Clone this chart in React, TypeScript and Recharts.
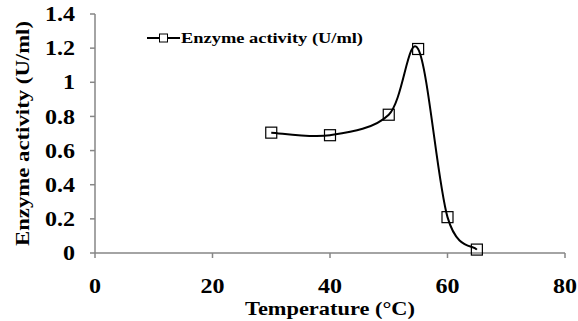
import { LineChart, Line, XAxis, YAxis, Legend } from 'recharts';

// Temperature (°C) and measured enzyme activity (U/ml)
const temperatures = [30, 40, 50, 55, 60, 65];
const activity = [0.705, 0.69, 0.81, 1.195, 0.21, 0.02];
const xTicks = [0, 20, 40, 60, 80];
const yTicks = [0, 0.2, 0.4, 0.6, 0.8, 1, 1.2, 1.4];

const data = temperatures.map((t, i) => ({ temp: t, activity: activity[i] }));

const FONT = '"Liberation Serif", "Times New Roman", serif';
const AXIS_GREY = '#868686';
const WIDE = 1.2; // the labels are set in a wide bold serif

// Excel-style smoothed line: cubic Bezier segments with tangents (P[i+1] - P[i-1]) / 6
const smoothCurve = (context: any) => {
  let xs: number[] = [];
  let ys: number[] = [];
  return {
    areaStart() {},
    areaEnd() {},
    lineStart() {
      xs = [];
      ys = [];
    },
    point(x: number, y: number) {
      xs.push(+x);
      ys.push(+y);
    },
    lineEnd() {
      const n = xs.length;
      if (!n) return;
      context.moveTo(xs[0], ys[0]);
      for (let i = 0; i < n - 1; i++) {
        const a = Math.max(i - 1, 0);
        const d = Math.min(i + 2, n - 1);
        const c1x = xs[i] + (xs[i + 1] - xs[a]) / 6;
        const c1y = ys[i] + (ys[i + 1] - ys[a]) / 6;
        const c2x = xs[i + 1] - (xs[d] - xs[i]) / 6;
        const c2y = ys[i + 1] - (ys[d] - ys[i]) / 6;
        context.bezierCurveTo(c1x, c1y, c2x, c2y, xs[i + 1], ys[i + 1]);
      }
    },
  };
};

const SquareDot = (props: any) => {
  const { cx, cy } = props;
  if (cx == null || cy == null) return null;
  return (
    <rect
      key={`dot-${cx}`}
      x={cx - 5.5}
      y={cy - 5.5}
      width={11}
      height={11}
      fill="none"
      stroke="#000"
      strokeWidth={1.2}
    />
  );
};

const WideTick = (props: any) => {
  const { x, y, payload, textAnchor, isY } = props;
  return (
    <g transform={`translate(${x},${y}) scale(${WIDE},1)`}>
      <text
        x={0}
        y={0}
        dy={isY ? '0.36em' : '0.71em'}
        textAnchor={textAnchor}
        fontFamily={FONT}
        fontWeight="bold"
        fontSize={20}
        fill="#000"
      >
        {payload.value}
      </text>
    </g>
  );
};

const LegendContent = (props: any) => {
  const item = props.payload?.[0];
  return (
    <svg width={220} height={20} style={{ display: 'block' }}>
      <line x1={0} y1={10} x2={33} y2={10} stroke="#000" strokeWidth={1.8} />
      <rect x={12.5} y={6} width={8} height={8} fill="#fff" stroke="#000" strokeWidth={1} />
      <text
        x={34}
        y={15}
        textLength={182}
        lengthAdjust="spacingAndGlyphs"
        fontFamily={FONT}
        fontWeight="bold"
        fontSize={15}
        fill="#000"
      >
        {item ? item.value : ''}
      </text>
    </svg>
  );
};

export default function App() {
  return (
    <div style={{ position: 'absolute', left: 0, top: 0, background: '#fff' }}>
      <LineChart width={578} height={321} data={data} margin={{ top: 14, right: 13, left: 0, bottom: 0 }}>
        <XAxis
          type="number"
          dataKey="temp"
          domain={[0, 80]}
          ticks={xTicks}
          height={68}
          stroke={AXIS_GREY}
          strokeWidth={1.5}
          tickSize={5}
          tickMargin={21}
          tick={<WideTick />}
          label={{
            content: (p: any) => {
              const vb = p.viewBox;
              return (
                <text
                  x={vb.x + vb.width / 2}
                  y={vb.y + 62}
                  textAnchor="middle"
                  textLength={170}
                  lengthAdjust="spacingAndGlyphs"
                  fontFamily={FONT}
                  fontWeight="bold"
                  fontSize={19}
                  fill="#000"
                >
                  Temperature (°C)
                </text>
              );
            },
          }}
        />
        <YAxis
          type="number"
          domain={[0, 1.4]}
          ticks={yTicks}
          width={95}
          stroke={AXIS_GREY}
          strokeWidth={1.5}
          tickSize={5}
          tickMargin={15}
          tick={<WideTick isY />}
          label={{
            content: (p: any) => {
              const vb = p.viewBox;
              const x = vb.x + 29;
              const y = vb.y + vb.height / 2;
              return (
                <text
                  x={x}
                  y={y}
                  transform={`rotate(-90 ${x} ${y})`}
                  textAnchor="middle"
                  textLength={225}
                  lengthAdjust="spacingAndGlyphs"
                  fontFamily={FONT}
                  fontWeight="bold"
                  fontSize={19}
                  fill="#000"
                >
                  Enzyme activity (U/ml)
                </text>
              );
            },
          }}
        />
        <Legend
          layout="vertical"
          align="center"
          verticalAlign="middle"
          wrapperStyle={{ left: 147, top: 28, width: 'auto' }}
          content={LegendContent}
        />
        <Line
          name="Enzyme activity (U/ml)"
          dataKey="activity"
          type={smoothCurve as any}
          stroke="#000"
          strokeWidth={2}
          dot={<SquareDot />}
          activeDot={false}
          isAnimationActive={false}
        />
      </LineChart>
    </div>
  );
}
